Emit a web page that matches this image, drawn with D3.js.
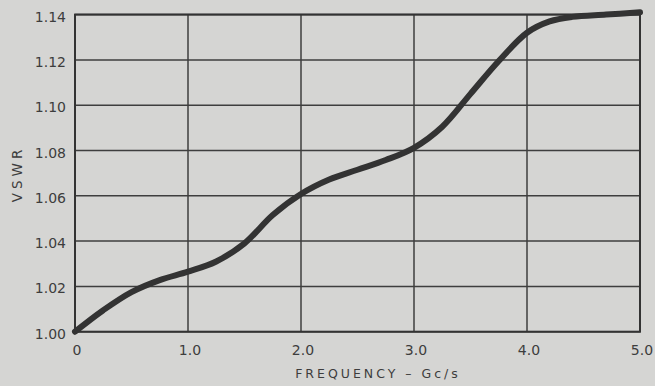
<!DOCTYPE html>
<html>
<head>
<meta charset="utf-8">
<script src="https://d3js.org/d3.v7.min.js"></script>
<style>
  body { margin: 0; background: #d5d5d3; }
  #chart { width: 655px; height: 386px; }
  .tick-label { font-family: "DejaVu Sans", sans-serif; font-size: 14px; fill: #3d3d3d; }
  .axis-title { font-family: "DejaVu Sans", sans-serif; fill: #3d3d3d; }
</style>
</head>
<body>
<div id="chart"></div>
<script>
// VSWR vs frequency
const freq = [0, 0.25, 0.5, 0.75, 1.0, 1.25, 1.5, 1.75, 2.0, 2.25, 2.5, 2.75, 3.0, 3.25, 3.5, 3.75, 4.0, 4.2, 4.4, 4.7, 5.0];
const vswr = [1.000, 1.0095, 1.0175, 1.0228, 1.0265, 1.031, 1.039, 1.0515, 1.0608, 1.0672, 1.0715, 1.0758, 1.0812, 1.0905, 1.105, 1.1195, 1.132, 1.137, 1.139, 1.140, 1.141];

const xTicks = [0, 1, 2, 3, 4, 5];
const xTickLabels = ["0", "1.0", "2.0", "3.0", "4.0", "5.0"];
const yTicks = [1.00, 1.02, 1.04, 1.06, 1.08, 1.10, 1.12, 1.14];
const yTickLabels = ["1.00", "1.02", "1.04", "1.06", "1.08", "1.10", "1.12", "1.14"];

const width = 655, height = 386;
const margin = { top: 14.6, right: 15, bottom: 54.3, left: 75 };

const svg = d3.select("#chart").append("svg")
  .attr("width", width)
  .attr("height", height);

svg.append("rect").attr("width", width).attr("height", height).attr("fill", "#d5d5d3");

const x = d3.scaleLinear().domain([0, 5]).range([margin.left, width - margin.right]);
const y = d3.scaleLinear().domain([1.00, 1.14]).range([height - margin.bottom, margin.top]);

// grid
svg.append("g").selectAll("line")
  .data(xTicks)
  .enter().append("line")
  .attr("x1", d => x(d)).attr("x2", d => x(d))
  .attr("y1", y(1.00)).attr("y2", y(1.14))
  .attr("stroke", "#3e3e3e").attr("stroke-width", 1.5);

svg.append("g").selectAll("line")
  .data(yTicks)
  .enter().append("line")
  .attr("x1", x(0)).attr("x2", x(5))
  .attr("y1", d => y(d)).attr("y2", d => y(d))
  .attr("stroke", "#3e3e3e").attr("stroke-width", 1.5);

// frame
svg.append("rect")
  .attr("x", x(0)).attr("y", y(1.14))
  .attr("width", x(5) - x(0)).attr("height", y(1.00) - y(1.14))
  .attr("fill", "none").attr("stroke", "#333").attr("stroke-width", 2);

// tick labels
svg.append("g").selectAll("text")
  .data(xTicks)
  .enter().append("text")
  .attr("class", "tick-label")
  .attr("x", d => x(d) + 2)
  .attr("y", y(1.00) + 23)
  .attr("text-anchor", "middle")
  .text((d, i) => xTickLabels[i]);

svg.append("g").selectAll("text")
  .data(yTicks)
  .enter().append("text")
  .attr("class", "tick-label")
  .attr("x", 66)
  .attr("y", d => y(d) + 7)
  .attr("text-anchor", "end")
  .text((d, i) => yTickLabels[i]);

// axis titles
svg.append("text")
  .attr("class", "axis-title")
  .attr("x", 378).attr("y", 378)
  .attr("text-anchor", "middle")
  .style("font-size", "12.5px")
  .style("letter-spacing", "3px")
  .text("FREQUENCY – Gc/s");

svg.append("text")
  .attr("class", "axis-title")
  .attr("transform", "translate(22,174) rotate(-90)")
  .attr("text-anchor", "middle")
  .style("font-size", "13.5px")
  .style("letter-spacing", "4px")
  .text("VSWR");

// curve
const pts = freq.map((f, i) => [f, vswr[i]]);
const line = d3.line()
  .x(d => x(d[0]))
  .y(d => y(d[1]))
  .curve(d3.curveCatmullRom.alpha(0.5));

svg.append("path")
  .datum(pts)
  .attr("d", line)
  .attr("fill", "none")
  .attr("stroke", "#333")
  .attr("stroke-width", 6)
  .attr("stroke-linecap", "round");
</script>
</body>
</html>
